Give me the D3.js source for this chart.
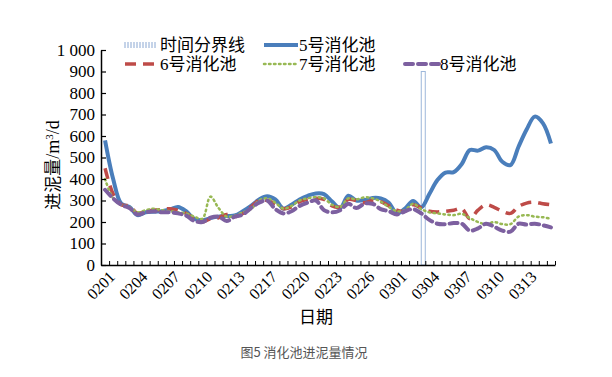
<!DOCTYPE html>
<html>
<head>
<meta charset="utf-8">
<script src="https://cdn.jsdelivr.net/npm/d3@7"></script>
<style>
body{margin:0;background:#fff;}
svg{display:block;}
</style>
</head>
<body>
<svg width="612" height="377"></svg>
<script>
// tick labels on the date axis (one label every 4 samples)
var dateLabels = ['0201','0204','0207','0210','0213','0217','0220','0223','0226','0301','0304','0307','0310','0313'];
var labelStep = 4;
var nPoints = 56;
var dividerIndex = 39;   // 时间分界线 position
var dividerValue = 900;
var yTicks = [0,100,200,300,400,500,600,700,800,900,1000];

var s5 = [580,400,285,270,232,245,248,250,258,270,250,215,208,218,225,228,230,250,275,305,
          320,305,262,280,305,322,333,330,295,265,322,300,302,312,310,290,240,262,298,268,
          330,395,430,432,470,535,532,548,535,480,465,550,630,690,660,565];
var s6 = [450,330,280,275,240,250,255,258,262,255,240,215,200,215,220,235,225,240,270,300,
          300,285,262,270,295,305,310,305,275,270,305,300,290,300,295,275,255,250,280,265,
          250,247,250,255,262,215,255,280,268,250,240,272,288,292,285,280];
var s7 = [400,310,280,270,245,255,262,255,250,245,240,225,215,318,265,225,230,245,260,300,
          310,290,262,275,300,310,315,310,280,270,310,305,315,310,295,270,250,255,285,260,
          245,240,235,232,238,218,200,190,200,190,190,225,232,225,222,215];
var s8 = [350,310,280,265,235,245,250,245,245,240,230,205,200,220,225,205,225,235,265,290,
          300,260,240,250,275,290,300,255,245,255,285,265,285,285,260,250,235,250,260,240,
          210,192,190,195,192,160,170,192,178,160,155,192,188,192,185,175];

var seriesNames = ['5号消化池','6号消化池','7号消化池','8号消化池'];
var seriesData = [s5,s6,s7,s8];
var colors = ['#4a7ebb','#be4b48','#98b954','#7d60a0'];
var widths = [4,3.5,2.5,4];
var dashes = [null,'11,7','1.5,3.5','8,5'];

var svg = d3.select('svg');
var margin = {left:101,right:57,top:50,bottom:112};
var width = +svg.attr('width'), height = +svg.attr('height');
var innerwidth = width - margin.left - margin.right;
var innerheight = height - margin.top - margin.bottom;
var serif = '"Liberation Serif","Noto Sans CJK SC",serif';
var cjk = '"Noto Sans CJK SC",sans-serif';

var xscale = d3.scaleBand().domain(d3.range(nPoints)).range([0,innerwidth]).padding(0);
var xedge = d3.scaleLinear().domain([0,nPoints]).range([0,innerwidth]);
var yscale = d3.scaleLinear().domain([0,1000]).range([innerheight,0]);
var xc = function(i){ return xscale(i) + xscale.bandwidth()/2; };

var g = svg.append('g').attr('transform','translate(' + margin.left + ',' + margin.top + ')');

// divider bar
var bx = xscale(dividerIndex) + xscale.bandwidth()*0.75;
g.append('rect')
  .attr('x', bx - 2).attr('width', 4)
  .attr('y', yscale(dividerValue)).attr('height', yscale(0) - yscale(dividerValue))
  .attr('fill','#fff').attr('stroke','#9db7da').attr('stroke-width',1);

// series lines
var line = d3.line().x(function(d,i){ return xc(i); }).y(function(d){ return yscale(d); })
  .curve(d3.curveCatmullRom.alpha(0.5));
seriesData.forEach(function(s,k){
  g.append('path').datum(s)
    .attr('d', line)
    .attr('fill','none')
    .attr('stroke', colors[k])
    .attr('stroke-width', widths[k])
    .attr('stroke-dasharray', dashes[k])
    .attr('stroke-linecap', k==2 ? 'round' : (k==3 ? 'round' : 'butt'))
    .attr('stroke-linejoin','round');
});

// y axis
var yaxis = g.append('g').call(d3.axisLeft(yscale).tickValues(yTicks)
  .tickSizeInner(-5).tickSizeOuter(0).tickPadding(6)
  .tickFormat(function(d){ return d == 1000 ? '1 000' : d; }));
yaxis.select('.domain').attr('stroke','#000').attr('stroke-width',1.5);
yaxis.selectAll('.tick line').attr('stroke','#000').attr('stroke-width',1.2);
yaxis.selectAll('text').attr('font-family',serif).attr('font-size',17).attr('fill','#000');

// x axis (ticks between categories)
var xaxis = g.append('g').attr('transform','translate(0,' + innerheight + ')')
  .call(d3.axisBottom(xedge).tickValues(d3.range(nPoints+1)).tickSizeInner(-4).tickSizeOuter(0).tickFormat(''));
xaxis.select('.domain').attr('stroke','#000').attr('stroke-width',1.5);
xaxis.selectAll('.tick line').attr('stroke','#000').attr('stroke-width',1);

g.append('g').selectAll('text').data(dateLabels).enter().append('text')
  .attr('transform', function(d,i){ return 'translate(' + (xc(i*labelStep) + 7) + ',' + (innerheight + 9) + ') rotate(-45)'; })
  .attr('text-anchor','end')
  .attr('dy','0.35em')
  .attr('font-family',serif).attr('font-size',16)
  .text(function(d){ return d; });

// axis titles
svg.append('text').attr('x',316).attr('y',323).attr('text-anchor','middle')
  .attr('font-family',cjk).attr('font-size',17).text('日期');
svg.append('text').attr('transform','translate(59,165) rotate(-90)').attr('text-anchor','middle')
  .attr('font-family',serif).attr('font-size',18)
  .html('<tspan font-family=\'"Noto Sans CJK SC"\' font-size="17">进泥量</tspan>/m<tspan dy="-6" font-size="11">3</tspan><tspan dy="6">/d</tspan>');

// legend
var legend = svg.append('g');
var items = [
  {name:'时间分界线', x:125, y:45, k:-1},
  {name:seriesNames[0], x:264, y:45, k:0},
  {name:seriesNames[1], x:125, y:64, k:1},
  {name:seriesNames[2], x:264, y:64, k:2},
  {name:seriesNames[3], x:405, y:64, k:3}
];
items.forEach(function(it){
  var lg = legend.append('g').attr('transform','translate(' + it.x + ',' + it.y + ')');
  if(it.k < 0){
    lg.selectAll('line').data(d3.range(0,31,3)).enter().append('line')
      .attr('x1',function(d){return d;}).attr('x2',function(d){return d;})
      .attr('y1',-3).attr('y2',3).attr('stroke','#8aa7d2').attr('stroke-width',1);
  } else {
    lg.append('line').attr('x1',0).attr('x2',34).attr('y1',0).attr('y2',0)
      .attr('stroke',colors[it.k]).attr('stroke-width',widths[it.k])
      .attr('stroke-dasharray',dashes[it.k])
      .attr('stroke-linecap', it.k>=2 ? 'round' : 'butt');
  }
  lg.append('text').attr('x',35).attr('y',0).attr('dy','0.35em')
    .attr('font-family',serif).attr('font-size',17).text(it.name);
});

// caption
svg.append('text').attr('x',304).attr('y',357).attr('text-anchor','middle')
  .attr('font-family',cjk).attr('font-size',13).attr('fill','#555').text('图5 消化池进泥量情况');
</script>
</body>
</html>
